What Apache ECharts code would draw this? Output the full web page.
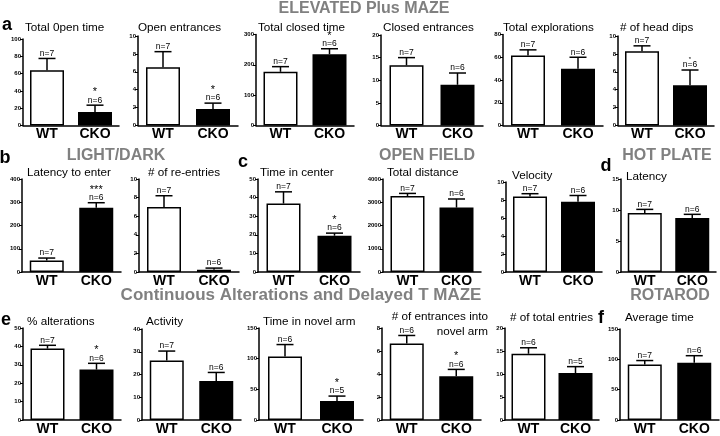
<!DOCTYPE html>
<html><head><meta charset="utf-8">
<script src="https://cdn.jsdelivr.net/npm/echarts@6/dist/echarts.min.js"></script>
<style>html,body{margin:0;padding:0;background:#fff}#c{width:720px;height:436px}</style>
</head><body><div id="c"></div>
<script>
const groups = ['WT', 'CKO'];

// ---- a: Elevated Plus Maze ----
const totalOpenTimeMean = [64, 15.5];
const totalOpenTimeSem = [13.5, 8];
const totalOpenTimeN = ['n=7', 'n=6'];
const totalOpenTimeSig = ['', '*'];
const totalOpenTimeTicks = [0, 20, 40, 60, 80, 100];

const openEntrancesMean = [6.5, 1.85];
const openEntrancesSem = [1.75, 0.65];
const openEntrancesN = ['n=7', 'n=6'];
const openEntrancesSig = ['', '*'];
const openEntrancesTicks = [0, 2, 4, 6, 8, 10];

const totalClosedTimeMean = [177, 235];
const totalClosedTimeSem = [17, 18];
const totalClosedTimeN = ['n=7', 'n=6'];
const totalClosedTimeSig = ['', '*'];
const totalClosedTimeTicks = [0, 100, 200, 300];

const closedEntrancesMean = [13.3, 9.0];
const closedEntrancesSem = [1.7, 2.6];
const closedEntrancesN = ['n=7', 'n=6'];
const closedEntrancesSig = ['', ''];
const closedEntrancesTicks = [0, 5, 10, 15, 20];

const totalExplorationsMean = [61.5, 50];
const totalExplorationsSem = [5, 10];
const totalExplorationsN = ['n=7', 'n=6'];
const totalExplorationsSig = ['', ''];
const totalExplorationsTicks = [0, 20, 40, 60, 80];

const headDipsMean = [8.3, 4.5];
const headDipsSem = [0.6, 1.7];
const headDipsN = ['n=7', 'n=6'];
const headDipsSig = ['', '*'];
const headDipsTicks = [0, 2, 4, 6, 8, 10];

// ---- b: Light/Dark ----
const latencyEnterMean = [50, 276];
const latencyEnterSem = [10, 22];
const latencyEnterN = ['n=7', 'n=6'];
const latencyEnterSig = ['', '***'];
const latencyEnterTicks = [0, 100, 200, 300, 400];

const reEntriesMean = [7.0, 0.25];
const reEntriesSem = [1.2, 0.17];
const reEntriesN = ['n=7', 'n=6'];
const reEntriesSig = ['', ''];
const reEntriesTicks = [0, 2, 4, 6, 8, 10];

// ---- c: Open Field ----
const timeCenterMean = [36.8, 19.5];
const timeCenterSem = [6.3, 1.4];
const timeCenterN = ['n=7', 'n=6'];
const timeCenterSig = ['', '*'];
const timeCenterTicks = [0, 10, 20, 30, 40, 50];

const totalDistanceMean = [3270, 2770];
const totalDistanceSem = [110, 370];
const totalDistanceN = ['n=7', 'n=6'];
const totalDistanceSig = ['', ''];
const totalDistanceTicks = [0, 1000, 2000, 3000, 4000];

const velocityMean = [8.4, 7.8];
const velocitySem = [0.3, 0.7];
const velocityN = ['n=7', 'n=6'];
const velocitySig = ['', ''];
const velocityTicks = [0, 2, 4, 6, 8, 10];

// ---- d: Hot Plate ----
const hotLatencyMean = [9.5, 8.7];
const hotLatencySem = [0.6, 0.6];
const hotLatencyN = ['n=7', 'n=6'];
const hotLatencySig = ['', ''];
const hotLatencyTicks = [0, 5, 10, 15];

// ---- e: Continuous Alterations and Delayed T Maze ----
const alterationsMean = [38.8, 27.4];
const alterationsSem = [1.8, 3.4];
const alterationsN = ['n=7', 'n=6'];
const alterationsSig = ['', '*'];
const alterationsTicks = [0, 10, 20, 30, 40, 50];

const activityMean = [26.1, 17.1];
const activitySem = [4.2, 3.8];
const activityN = ['n=7', 'n=6'];
const activitySig = ['', ''];
const activityTicks = [0, 10, 20, 30, 40];

const novelArmTimeMean = [103.5, 31];
const novelArmTimeSem = [19.5, 8];
const novelArmTimeN = ['n=6', 'n=5'];
const novelArmTimeSig = ['', '*'];
const novelArmTimeTicks = [0, 50, 100, 150];

const novelArmEntrancesMean = [6.65, 3.8];
const novelArmEntrancesSem = [0.7, 0.6];
const novelArmEntrancesN = ['n=6', 'n=6'];
const novelArmEntrancesSig = ['', '*'];
const novelArmEntrancesTicks = [0, 2, 4, 6, 8];

const totalEntriesMean = [14.4, 10.2];
const totalEntriesSem = [1.3, 1.4];
const totalEntriesN = ['n=6', 'n=5'];
const totalEntriesSig = ['', ''];
const totalEntriesTicks = [0, 5, 10, 15, 20];

// ---- f: Rotarod ----
const rotarodMean = [91.5, 94.5];
const rotarodSem = [6.5, 11.5];
const rotarodN = ['n=7', 'n=6'];
const rotarodSig = ['', ''];
const rotarodTicks = [0, 50, 100, 150];

// ---- layout (positions only) ----
const panels = [
  {t: 'Total 0pen time', m: totalOpenTimeMean, s: totalOpenTimeSem, n: totalOpenTimeN, sig: totalOpenTimeSig, ticks: totalOpenTimeTicks, g: [23, 39, 96, 86.5], tp: [25, 28]},
  {t: 'Open entrances', m: openEntrancesMean, s: openEntrancesSem, n: openEntrancesN, sig: openEntrancesSig, ticks: openEntrancesTicks, g: [138, 36, 100, 89.5], tp: [138, 28]},
  {t: 'Total closed time', m: totalClosedTimeMean, s: totalClosedTimeSem, n: totalClosedTimeN, sig: totalClosedTimeSig, ticks: totalClosedTimeTicks, g: [256, 34.5, 98, 91], tp: [258, 28]},
  {t: 'Closed entrances', m: closedEntrancesMean, s: closedEntrancesSem, n: closedEntrancesN, sig: closedEntrancesSig, ticks: closedEntrancesTicks, g: [381, 35, 102, 90.5], tp: [383, 28]},
  {t: 'Total explorations', m: totalExplorationsMean, s: totalExplorationsSem, n: totalExplorationsN, sig: totalExplorationsSig, ticks: totalExplorationsTicks, g: [503, 34.5, 100, 91], tp: [503, 28]},
  {t: '# of head dips', m: headDipsMean, s: headDipsSem, n: headDipsN, sig: headDipsSig, ticks: headDipsTicks, g: [618, 36, 96, 89.5], tp: [620, 28], sigSize: 6},
  {t: 'Latency to enter', m: latencyEnterMean, s: latencyEnterSem, n: latencyEnterN, sig: latencyEnterSig, ticks: latencyEnterTicks, g: [22, 179, 99, 93], tp: [27, 173]},
  {t: '# of re-entries', m: reEntriesMean, s: reEntriesSem, n: reEntriesN, sig: reEntriesSig, ticks: reEntriesTicks, g: [139, 179, 100, 93], tp: [148, 173]},
  {t: 'Time in center', m: timeCenterMean, s: timeCenterSem, n: timeCenterN, sig: timeCenterSig, ticks: timeCenterTicks, g: [258, 179, 102, 93], tp: [260, 173]},
  {t: 'Total distance', m: totalDistanceMean, s: totalDistanceSem, n: totalDistanceN, sig: totalDistanceSig, ticks: totalDistanceTicks, g: [383, 179, 98, 93], tp: [387, 173]},
  {t: 'Velocity', m: velocityMean, s: velocitySem, n: velocityN, sig: velocitySig, ticks: velocityTicks, g: [506, 182, 96, 90], tp: [512, 176]},
  {t: 'Latency', m: hotLatencyMean, s: hotLatencySem, n: hotLatencyN, sig: hotLatencySig, ticks: hotLatencyTicks, g: [621, 179, 95, 93], tp: [626, 177]},
  {t: '% alterations', m: alterationsMean, s: alterationsSem, n: alterationsN, sig: alterationsSig, ticks: alterationsTicks, g: [23, 328, 98, 94.5], tp: [27, 322]},
  {t: 'Activity', m: activityMean, s: activitySem, n: activityN, sig: activitySig, ticks: activityTicks, g: [142, 329, 99, 93.5], tp: [146, 322]},
  {t: 'Time in novel arm', m: novelArmTimeMean, s: novelArmTimeSem, n: novelArmTimeN, sig: novelArmTimeSig, ticks: novelArmTimeTicks, g: [259, 328, 104, 94.5], tp: [263, 322]},
  {t: null, m: novelArmEntrancesMean, s: novelArmEntrancesSem, n: novelArmEntrancesN, sig: novelArmEntrancesSig, ticks: novelArmEntrancesTicks, g: [382, 328, 99, 94.5]},
  {t: '# of total entries', m: totalEntriesMean, s: totalEntriesSem, n: totalEntriesN, sig: totalEntriesSig, ticks: totalEntriesTicks, g: [505, 328, 94, 94.5], tp: [510, 318]},
  {t: 'Average time', m: rotarodMean, s: rotarodSem, n: rotarodN, sig: rotarodSig, ticks: rotarodTicks, g: [620, 329, 99, 93.5], tp: [625, 318]}
];

const FONT = 'Liberation Sans, Arial, sans-serif';

const grid = panels.map(p => ({left: p.g[0], top: p.g[1], width: p.g[2], height: p.g[3]}));
const xAxis = panels.map((p, i) => ({
  type: 'category', gridIndex: i, data: groups,
  axisLine: {lineStyle: {color: '#000', width: 1.5}},
  axisTick: {show: false},
  axisLabel: {margin: 2, fontSize: 14, fontWeight: 'bold', color: '#000', fontFamily: FONT}
}));
const yAxis = panels.map((p, i) => ({
  type: 'value', gridIndex: i,
  min: p.ticks[0], max: p.ticks[p.ticks.length - 1], interval: p.ticks[1] - p.ticks[0],
  splitLine: {show: false},
  axisLine: {show: true, lineStyle: {color: '#000', width: 1.5}},
  axisTick: {show: true, length: 3, lineStyle: {color: '#000', width: 1}},
  axisLabel: {fontSize: 6, margin: 2, color: '#000', fontFamily: FONT, fontWeight: 'bold', formatter: v => String(v)}
}));

const series = [];
panels.forEach((p, i) => {
  series.push({
    type: 'bar', xAxisIndex: i, yAxisIndex: i, barWidth: 34, silent: true,
    data: p.m.map((v, j) => ({
      value: v,
      itemStyle: j === 0 ? {color: '#fff', borderColor: '#000', borderWidth: 1.5}
                         : {color: '#000', borderColor: '#000', borderWidth: 1.5}
    }))
  });
  series.push({
    type: 'custom', xAxisIndex: i, yAxisIndex: i, silent: true, z: 5,
    encode: {x: 0, y: [1, 2]},
    data: p.m.map((v, j) => [j, v, v + p.s[j]]),
    renderItem: (params, api) => {
      const j = params.dataIndex;
      const b = api.coord([api.value(0), api.value(1)]);
      const t = api.coord([api.value(0), api.value(2)]);
      const children = [
        {type: 'line', shape: {x1: b[0], y1: b[1], x2: t[0], y2: t[1]}, style: {stroke: '#000', lineWidth: 1.5}},
        {type: 'line', shape: {x1: t[0] - 8.5, y1: t[1], x2: t[0] + 8.5, y2: t[1]}, style: {stroke: '#000', lineWidth: 1.5}},
        {type: 'text', style: {text: p.n[j], x: t[0], y: t[1] - 0.5, align: 'center', verticalAlign: 'bottom',
          fontSize: 8.5, fontFamily: FONT, fill: '#000'}}
      ];
      if (p.sig[j]) {
        children.push({type: 'text', style: {text: p.sig[j], x: t[0], y: t[1] - 7.5, align: 'center', verticalAlign: 'bottom',
          fontSize: p.sigSize || 11, fontFamily: FONT, fill: '#000'}});
      }
      return {type: 'group', children};
    }
  });
});

const graphic = [];
function txt(text, x, y, size, weight, color, align) {
  graphic.push({type: 'text', x: x, y: y, silent: true,
    style: {text, fontSize: size, fontWeight: weight, fontFamily: FONT, fill: color, align: align || 'left', verticalAlign: 'middle'}});
}
panels.forEach(p => { if (p.t) txt(p.t, p.tp[0], p.tp[1], 11.7, 'normal', '#000'); });
txt('# of entrances into', 488, 317, 11.7, 'normal', '#000', 'right');
txt('novel arm', 488, 332, 11.7, 'normal', '#000', 'right');

const GREY = '#808080';
txt('ELEVATED Plus MAZE', 364, 9, 16, 'bold', GREY, 'center');
txt('LIGHT/DARK', 116, 156, 16, 'bold', GREY, 'center');
txt('OPEN FIELD', 427, 156, 16, 'bold', GREY, 'center');
txt('HOT PLATE', 667, 156, 16, 'bold', GREY, 'center');
txt('Continuous Alterations and Delayed T MAZE', 301, 295, 17, 'bold', GREY, 'center');
txt('ROTAROD', 670, 296, 16, 'bold', GREY, 'center');

txt('a', 7, 25, 18, 'bold', '#000', 'center');
txt('b', 5, 158, 18, 'bold', '#000', 'center');
txt('c', 243, 162, 18, 'bold', '#000', 'center');
txt('d', 606, 166, 18, 'bold', '#000', 'center');
txt('e', 6, 320, 18, 'bold', '#000', 'center');
txt('f', 601, 318, 18, 'bold', '#000', 'center');

const chart = echarts.init(document.getElementById('c'), null, {renderer: 'canvas'});
chart.setOption({animation: false, backgroundColor: '#fff', grid, xAxis, yAxis, series, graphic});
</script></body></html>
